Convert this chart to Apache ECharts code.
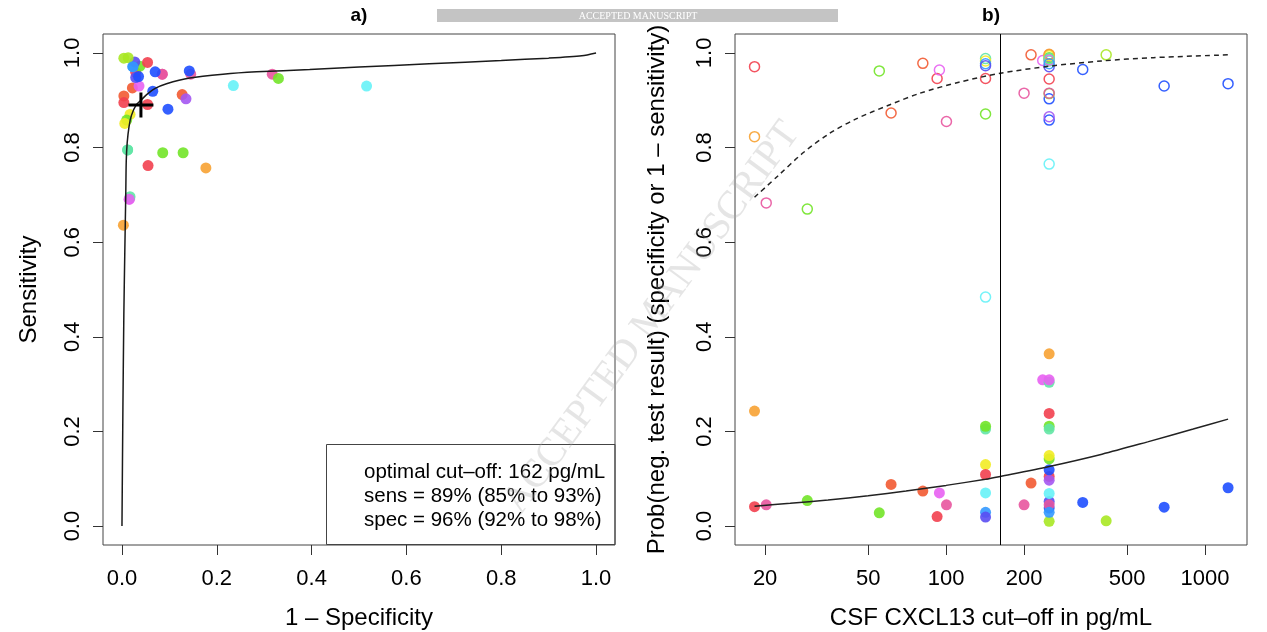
<!DOCTYPE html>
<html>
<head>
<meta charset="utf-8">
<script src="https://cdn.jsdelivr.net/npm/echarts@6/dist/echarts.min.js"></script>
<style>
  html, body { margin: 0; padding: 0; background: #fff; }
  #chart { width: 1267px; height: 632px; }
</style>
</head>
<body>
<div id="chart"></div>
<script>
// Study-level results: CSF CXCL13 cut-off (pg/mL), specificity, sensitivity, colour group
const studyCutoff = [18.2, 18.2, 20.2, 29.1, 55.2, 61.3, 81.3, 92.3, 94.2, 100.3,
  142, 142, 142, 142, 142, 142, 142, 200, 212.8, 236,
  250, 250, 250, 250, 250, 250, 250, 250, 250, 250, 250, 250, 250, 250, 250, 250, 250,
  337, 415, 695, 1227];
const studySpec = [0.971, 0.823, 0.683, 0.670, 0.962, 0.873, 0.978, 0.946, 0.964, 0.855,
  0.988, 0.983, 0.977, 0.973, 0.946, 0.871, 0.484, 0.915, 0.996, 0.984,
  0.987, 0.971, 0.858, 0.996, 0.865, 0.765, 0.903, 0.990, 0.994, 0.914, 0.945, 0.983, 0.997, 0.985, 0.988, 0.915, 0.977,
  0.965, 0.996, 0.930, 0.935];
const studySens = [0.959, 0.757, 0.955, 0.946, 0.972, 0.912, 0.926, 0.980, 0.930, 0.955,
  0.795, 0.870, 0.971, 0.981, 0.891, 0.789, 0.930, 0.955, 0.909, 0.691,
  0.990, 0.948, 0.962, 0.895, 0.903, 0.931, 0.881, 0.858, 0.851, 0.789, 0.762, 0.696, 0.636, 0.691, 0.795, 0.955, 0.971,
  0.950, 0.989, 0.960, 0.919];
const studyGroup = [0, 2, 13, 5, 5, 1, 1, 0, 12, 13,
  6, 3, 8, 10, 0, 5, 7, 13, 1, 12,
  4, 10, 9, 0, 11, 7, 9, 5, 3, 5, 0, 6, 2, 12, 6, 13, 8,
  9, 4, 9, 9];

// Summary ROC curve (1 - specificity, sensitivity)
const srocFpr = [0, 0.002, 0.004, 0.006, 0.008, 0.009, 0.011, 0.015, 0.02, 0.03, 0.04, 0.052, 0.07,
  0.094, 0.143, 0.213, 0.284, 0.396, 0.5, 0.648, 0.8, 0.9, 0.97, 1];
const srocSens = [0, 0.25, 0.45, 0.58, 0.70, 0.77, 0.81, 0.845, 0.868, 0.89, 0.90, 0.912, 0.925,
  0.935, 0.947, 0.955, 0.96, 0.965, 0.97, 0.977, 0.984, 0.989, 0.994, 1];

// Fitted specificity by cut-off
const specFitCutoff = [18.2, 22.4, 28.2, 35.5, 44.7, 60.3, 79.4, 112, 162, 251, 398, 631, 1230];
const specFitValue = [0.695, 0.74, 0.79, 0.83, 0.86, 0.89, 0.915, 0.938, 0.957, 0.972, 0.983, 0.990, 0.996];
// Fitted 1 - sensitivity by cut-off
const missFitCutoff = [18.2, 25, 35, 50, 70, 100, 142, 162, 250, 400, 600, 900, 1227];
const missFitValue = [0.042, 0.048, 0.055, 0.064, 0.074, 0.086, 0.099, 0.105, 0.126, 0.152, 0.178, 0.205, 0.226];

// Pooled estimate at the optimal cut-off: [estimate, lower, upper]
const optimalCutoff = 162;
const sensEstimate = [0.89, 0.85, 0.93];
const specEstimate = [0.96, 0.92, 0.98];

const probTicks = [0, 0.2, 0.4, 0.6, 0.8, 1];
const cutoffTicks = [20, 50, 100, 200, 500, 1000];

// Colour per study group
const groupColors = ['#f2404f', '#f25a32', '#f7a233', '#f2ec24', '#a9e824', '#72e428', '#62e6a6',
  '#66f2f7', '#3399ff', '#1f4fff', '#5a4cf2', '#a457f2', '#e860f2', '#e8559f'];

const FONT = '"Liberation Sans", Arial, Helvetica, sans-serif';
const pct = v => Math.round(v * 100) + '%';

const rocPoints = studySpec.map((s, i) => ({
  value: [1 - s, studySens[i]],
  itemStyle: { color: groupColors[studyGroup[i]] }
}));
const specPoints = studySpec.map((s, i) => ({
  value: [studyCutoff[i], s],
  itemStyle: { borderColor: groupColors[studyGroup[i]] }
}));
const missPoints = studySens.map((s, i) => ({
  value: [studyCutoff[i], 1 - s],
  itemStyle: { color: groupColors[studyGroup[i]] }
}));

const tickStyle = { show: true, inside: false, length: 10, lineStyle: { color: '#333', width: 1 } };
const xLabel = { color: '#000', fontSize: 22, fontFamily: FONT, margin: 23 };
const yLabel = { color: '#000', fontSize: 22, fontFamily: FONT, margin: 19, rotate: 90 };
const nameBase = { color: '#000', fontSize: 24, fontFamily: FONT };
const noLine = { show: false, onZero: false };

const chart = echarts.init(document.getElementById('chart'), null, { renderer: 'canvas' });

chart.setOption({
  animation: false,
  backgroundColor: '#fff',
  grid: [
    { left: 103, top: 34, width: 512, height: 511, outerBoundsMode: 'none', containLabel: false,
      show: true, borderColor: '#444', borderWidth: 1, backgroundColor: 'transparent' },
    { left: 735, top: 34, width: 512, height: 511, outerBoundsMode: 'none', containLabel: false,
      show: true, borderColor: '#444', borderWidth: 1, backgroundColor: 'transparent' }
  ],
  xAxis: [
    {
      gridIndex: 0, type: 'value', min: -0.04, max: 1.04,
      axisLine: noLine, splitLine: { show: false },
      axisTick: Object.assign({ customValues: probTicks }, tickStyle),
      axisLabel: Object.assign({ customValues: probTicks, formatter: v => v.toFixed(1) }, xLabel),
      name: '1 – Specificity', nameLocation: 'middle', nameGap: 61, nameTextStyle: nameBase
    },
    {
      gridIndex: 1, type: 'log', min: 15.3, max: 1452, logBase: 10,
      axisLine: noLine, splitLine: { show: false }, minorTick: { show: false },
      axisTick: Object.assign({ customValues: cutoffTicks }, tickStyle),
      axisLabel: Object.assign({ customValues: cutoffTicks, formatter: v => String(Math.round(v)) }, xLabel),
      name: 'CSF CXCL13 cut–off in pg/mL', nameLocation: 'middle', nameGap: 61, nameTextStyle: nameBase
    }
  ],
  yAxis: [
    {
      gridIndex: 0, type: 'value', min: -0.04, max: 1.04,
      axisLine: noLine, splitLine: { show: false },
      axisTick: Object.assign({ customValues: probTicks }, tickStyle),
      axisLabel: Object.assign({ customValues: probTicks, formatter: v => v.toFixed(1) }, yLabel),
      name: 'Sensitivity', nameLocation: 'middle', nameGap: 62, nameTextStyle: nameBase
    },
    {
      gridIndex: 1, type: 'value', min: -0.04, max: 1.04,
      axisLine: noLine, splitLine: { show: false },
      axisTick: Object.assign({ customValues: probTicks }, tickStyle),
      axisLabel: Object.assign({ customValues: probTicks, formatter: v => v.toFixed(1) }, yLabel),
      name: 'Prob(neg. test result) (specificity or 1 – sensitivity)', nameLocation: 'middle', nameGap: 66, nameTextStyle: nameBase
    }
  ],
  series: [
    {
      name: 'studies', type: 'scatter', xAxisIndex: 0, yAxisIndex: 0,
      symbol: 'circle', symbolSize: 11, silent: true,
      itemStyle: { opacity: 0.9 },
      data: rocPoints, z: 3
    },
    {
      name: 'SROC', type: 'line', xAxisIndex: 0, yAxisIndex: 0,
      showSymbol: false, silent: true, smooth: 0.25,
      lineStyle: { color: '#1a1a1a', width: 1.5 },
      data: srocFpr.map((x, i) => [x, srocSens[i]]), z: 4
    },
    {
      name: 'optimum', type: 'scatter', xAxisIndex: 0, yAxisIndex: 0, silent: true,
      symbol: 'path://M11,0h3v11h11v3h-11v11h-3v-11h-11v-3h11z', symbolSize: [25, 25],
      itemStyle: { color: '#000', opacity: 1 },
      data: [[1 - specEstimate[0], sensEstimate[0]]], z: 6
    },
    {
      name: 'specificity', type: 'scatter', xAxisIndex: 1, yAxisIndex: 1,
      symbol: 'circle', symbolSize: 10, silent: true,
      itemStyle: { color: 'rgba(255,255,255,0)', borderWidth: 1.5, opacity: 0.9 },
      data: specPoints, z: 3,
      markLine: {
        silent: true, symbol: 'none', animation: false,
        label: { show: false },
        lineStyle: { color: '#000', width: 1, type: 'solid' },
        data: [{ xAxis: optimalCutoff }]
      }
    },
    {
      name: '1 - sensitivity', type: 'scatter', xAxisIndex: 1, yAxisIndex: 1,
      symbol: 'circle', symbolSize: 11, silent: true,
      itemStyle: { opacity: 0.9 },
      data: missPoints, z: 3
    },
    {
      name: 'specificity fit', type: 'line', xAxisIndex: 1, yAxisIndex: 1,
      showSymbol: false, silent: true, smooth: 0.3,
      lineStyle: { color: '#222', width: 1.5, type: [5, 4] },
      data: specFitCutoff.map((x, i) => [x, specFitValue[i]]), z: 4
    },
    {
      name: 'miss fit', type: 'line', xAxisIndex: 1, yAxisIndex: 1,
      showSymbol: false, silent: true, smooth: 0.3,
      lineStyle: { color: '#222', width: 1.5 },
      data: missFitCutoff.map((x, i) => [x, missFitValue[i]]), z: 4
    }
  ],
  graphic: [
    // panel titles
    { type: 'text', x: 359, y: 16, z: 10, style: { text: 'a)', fill: '#000', font: 'bold 19px ' + FONT, textAlign: 'center', textVerticalAlign: 'middle' } },
    { type: 'text', x: 991, y: 16, z: 10, style: { text: 'b)', fill: '#000', font: 'bold 19px ' + FONT, textAlign: 'center', textVerticalAlign: 'middle' } },
    // legend box with the pooled estimate
    { type: 'rect', z: 10, shape: { x: 326.5, y: 444.5, width: 288.5, height: 100 }, style: { fill: 'none', stroke: '#444', lineWidth: 1 } },
    { type: 'text', x: 364, y: 472, z: 10, style: { text: 'optimal cut–off: ' + optimalCutoff + ' pg/mL', fill: '#000', font: '20.5px ' + FONT, textVerticalAlign: 'middle' } },
    { type: 'text', x: 364, y: 496, z: 10, style: { text: 'sens = ' + pct(sensEstimate[0]) + ' (' + pct(sensEstimate[1]) + ' to ' + pct(sensEstimate[2]) + ')', fill: '#000', font: '20.5px ' + FONT, textVerticalAlign: 'middle' } },
    { type: 'text', x: 364, y: 520, z: 10, style: { text: 'spec = ' + pct(specEstimate[0]) + ' (' + pct(specEstimate[1]) + ' to ' + pct(specEstimate[2]) + ')', fill: '#000', font: '20.5px ' + FONT, textVerticalAlign: 'middle' } },
    // manuscript stamp
    { type: 'rect', z: 10, shape: { x: 437, y: 9, width: 401, height: 13 }, style: { fill: '#c4c4c4' } },
    { type: 'text', x: 638, y: 16, z: 11, style: { text: 'ACCEPTED MANUSCRIPT', fill: '#fff', font: '10px "Liberation Serif", "Times New Roman", serif', textAlign: 'center', textVerticalAlign: 'middle' } },
    { type: 'text', x: 652, y: 318, rotation: 0.94, z: 50, silent: true,
      style: { text: 'ACCEPTED MANUSCRIPT', fill: 'rgba(170,170,170,0.3)', font: '40px "Liberation Serif", "Times New Roman", serif', textAlign: 'center', textVerticalAlign: 'middle' } }
  ]
});
</script>
</body>
</html>
